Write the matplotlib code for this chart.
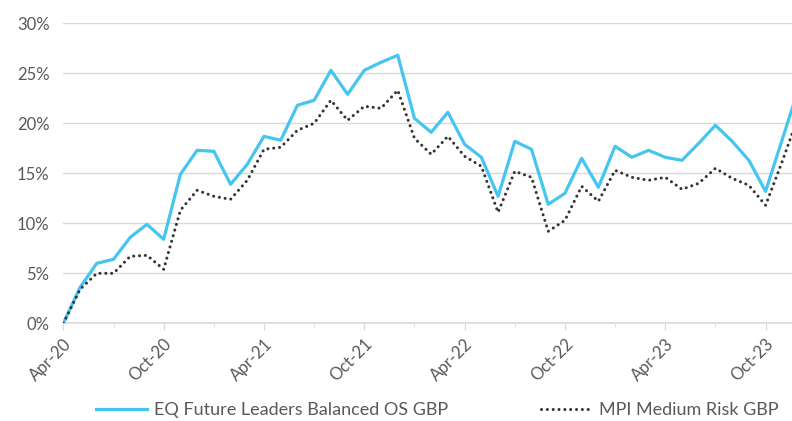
import matplotlib
matplotlib.use("Agg")
import matplotlib.pyplot as plt
from matplotlib.ticker import FixedLocator, MultipleLocator, FuncFormatter

plt.rcParams['font.family'] = ['Lato', 'DejaVu Sans']

# monthly returns, Apr-20 .. Dec-23 (cumulative %)
months = ['Apr-20', 'May-20', 'Jun-20', 'Jul-20', 'Aug-20', 'Sep-20', 'Oct-20', 'Nov-20', 'Dec-20',
          'Jan-21', 'Feb-21', 'Mar-21', 'Apr-21', 'May-21', 'Jun-21', 'Jul-21', 'Aug-21', 'Sep-21',
          'Oct-21', 'Nov-21', 'Dec-21', 'Jan-22', 'Feb-22', 'Mar-22', 'Apr-22', 'May-22', 'Jun-22',
          'Jul-22', 'Aug-22', 'Sep-22', 'Oct-22', 'Nov-22', 'Dec-22', 'Jan-23', 'Feb-23', 'Mar-23',
          'Apr-23', 'May-23', 'Jun-23', 'Jul-23', 'Aug-23', 'Sep-23', 'Oct-23', 'Nov-23', 'Dec-23']

eq_fund = [0.0, 3.6, 6.0, 6.4, 8.6, 9.9, 8.4, 14.9, 17.3,
           17.2, 13.9, 15.9, 18.7, 18.3, 21.8, 22.3, 25.3, 22.9,
           25.3, 26.1, 26.8, 20.5, 19.1, 21.1, 17.9, 16.6, 12.7,
           18.2, 17.4, 11.9, 13.0, 16.5, 13.6, 17.7, 16.6, 17.3,
           16.6, 16.3, 18.0, 19.8, 18.2, 16.3, 13.2, 18.4, 23.6]

mpi_medium = [0.0, 3.4, 5.0, 5.0, 6.7, 6.8, 5.4, 11.3, 13.3,
              12.7, 12.4, 14.3, 17.4, 17.6, 19.3, 20.0, 22.3, 20.3,
              21.7, 21.5, 23.3, 18.5, 16.9, 18.7, 16.7, 15.7, 11.1,
              15.2, 14.6, 9.2, 10.3, 13.7, 12.2, 15.3, 14.6, 14.3,
              14.6, 13.4, 14.0, 15.5, 14.5, 13.8, 11.8, 16.2, 20.9]

series_names = ['EQ Future Leaders Balanced OS GBP', 'MPI Medium Risk GBP']

txt_col = '#595959'
grid_col = '#d9d9d9'

fig = plt.figure(figsize=(7.92, 4.21), dpi=100)
ax = fig.add_axes([0.08, 0.232, 0.92, 0.7127])

x = list(range(len(months)))
ax.plot(x, eq_fund, color='#45C5EF', lw=2.3, label=series_names[0], zorder=3)
ax.plot(x, mpi_medium, color='#333333', lw=2.2, linestyle=(0, (0.01, 1.9)),
        dash_capstyle='round', label=series_names[1], zorder=4)

ax.set_xlim(0, 43.58)
ax.set_ylim(0, 30)

# y axis
ax.yaxis.set_major_locator(MultipleLocator(5))
ax.yaxis.set_major_formatter(FuncFormatter(lambda v, p: f'{v:.0f}%'))
ax.tick_params(axis='y', length=0, pad=10, labelsize=12, labelcolor=txt_col)
ax.grid(axis='y', color=grid_col, lw=1)
ax.set_axisbelow(True)

# x axis
major = [i for i in x if i % 6 == 0]
ax.xaxis.set_major_locator(FixedLocator(major))
ax.xaxis.set_minor_locator(FixedLocator([i for i in x if i % 3 == 0 and i % 6 != 0]))
ax.set_xticklabels([months[i] for i in major], rotation=45, ha='right',
                   rotation_mode='anchor', fontsize=12, color=txt_col)
ax.tick_params(axis='x', which='major', length=5, color=grid_col, pad=4)
ax.tick_params(axis='x', which='minor', length=3, color=grid_col)

for s in ['top', 'right', 'left']:
    ax.spines[s].set_visible(False)
ax.spines['bottom'].set_color(grid_col)
ax.spines['bottom'].set_linewidth(1.2)

leg = fig.legend(loc='center', bbox_to_anchor=(0.552, 0.025), ncol=2, frameon=False,
                 fontsize=13, handlelength=2.85, handletextpad=0.4, columnspacing=5.1)
for t in leg.get_texts():
    t.set_color(txt_col)

fig.savefig('out.png', dpi=100)
